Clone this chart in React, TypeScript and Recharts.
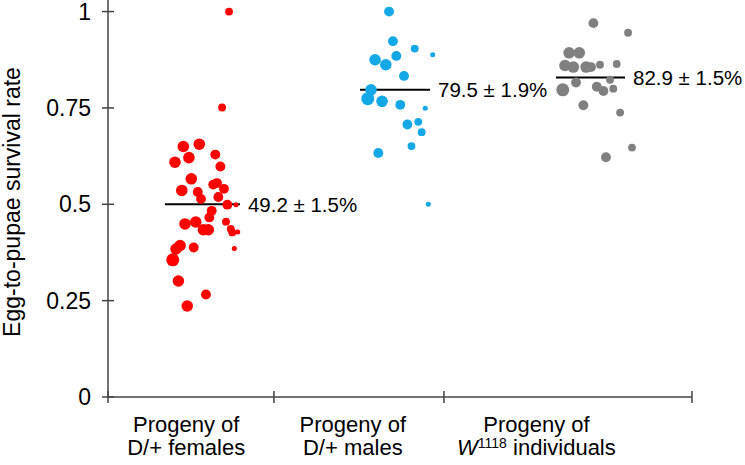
import { ScatterChart, Scatter, XAxis, YAxis, ZAxis, ReferenceLine } from "recharts";

const FONT = "'Liberation Sans', Arial, Helvetica, sans-serif";

// each point: [x position (jittered, category units), survival rate, dot weight]
const femalesPoints = [
  [0.443, 0.65, 4], [0.537, 0.656, 4], [0.394, 0.609, 4], [0.476, 0.621, 4],
  [0.631, 0.629, 3], [0.661, 0.598, 3], [0.49, 0.566, 4], [0.434, 0.536, 4],
  [0.528, 0.532, 3], [0.547, 0.514, 3], [0.619, 0.551, 3], [0.641, 0.555, 3],
  [0.682, 0.54, 3], [0.649, 0.519, 3], [0.702, 0.499, 3], [0.753, 0.499, 1],
  [0.61, 0.483, 3], [0.596, 0.466, 3], [0.453, 0.449, 4], [0.516, 0.454, 4],
  [0.561, 0.434, 4], [0.59, 0.434, 4], [0.694, 0.455, 2], [0.722, 0.436, 2],
  [0.731, 0.427, 2], [0.763, 0.428, 1], [0.743, 0.385, 1], [0.424, 0.393, 4],
  [0.4, 0.384, 4], [0.504, 0.388, 3], [0.381, 0.356, 5], [0.414, 0.301, 4],
  [0.576, 0.266, 3], [0.466, 0.236, 4], [0.712, 1.0, 2], [0.671, 0.751, 2],
];

const malesPoints = [
  [1.653, 1.0, 3], [1.676, 0.923, 3], [1.804, 0.904, 2], [1.571, 0.875, 4],
  [1.634, 0.862, 4], [1.696, 0.885, 3], [1.741, 0.833, 3], [1.547, 0.797, 4],
  [1.528, 0.774, 5], [1.612, 0.767, 4], [1.719, 0.758, 3], [1.866, 0.749, 1],
  [1.761, 0.707, 3], [1.825, 0.714, 2], [1.845, 0.687, 2], [1.785, 0.651, 2],
  [1.59, 0.633, 3], [1.884, 0.5, 1], [1.91, 0.888, 1],
];

const w1118Points = [
  [2.855, 0.97, 3], [2.712, 0.893, 4], [2.772, 0.893, 4], [2.688, 0.86, 4],
  [2.737, 0.856, 4], [2.812, 0.856, 4], [2.841, 0.856, 3], [2.894, 0.862, 2],
  [2.992, 0.864, 2], [2.753, 0.816, 3], [2.675, 0.797, 5], [2.875, 0.805, 3],
  [2.914, 0.794, 3], [2.953, 0.823, 2], [2.972, 0.8, 2], [2.796, 0.757, 3],
  [3.012, 0.738, 2], [2.929, 0.622, 3], [3.059, 0.945, 2], [3.082, 0.647, 2],
];

const groupColors = ["#ff0000", "#14a8e6", "#808080"];
const meanValues = [0.5, 0.797, 0.829];
const meanSpans = [[0.335, 0.776], [1.482, 1.894], [2.635, 3.041]];
const meanLabels = ["49.2 \u00b1 1.5%", "79.5 \u00b1 1.9%", "82.9 \u00b1 1.5%"];

const yTicks = [0, 0.25, 0.5, 0.75, 1];
const dividers = [0, 0.976, 1.976, 3.435];
const categoryPos = [0.46, 1.44, 2.52];
const categoryLine1 = ["Progeny of", "Progeny of", "Progeny of"];
const categoryLine2 = [
  [{ t: "D/+ females" }],
  [{ t: "D/+ males" }],
  [{ t: "W", italic: true }, { t: "1118", sup: true }, { t: " individuals" }],
];

const toRows = (pts: number[][]) => pts.map(([x, y, n]) => ({ x, y, n }));

const YTick = (props: any) => {
  const { x, y, payload } = props;
  return (
    <g>
      <line x1={x - 6} x2={x + 6} y1={y} y2={y} stroke="#444" strokeWidth={1.5} />
      <text x={x - 17} y={y} textAnchor="end" dominantBaseline="central" fontSize={23} fill="#000" fontFamily={FONT}>
        {String(payload.value)}
      </text>
    </g>
  );
};

const XTick = (props: any) => {
  const { x, y, payload } = props;
  const idx = categoryPos.indexOf(payload.value);
  if (idx < 0) {
    return <line x1={x} x2={x} y1={y - 6} y2={y + 6} stroke="#444" strokeWidth={1.5} />;
  }
  return (
    <g fontFamily={FONT} fill="#000">
      <text x={x} y={y + 35} textAnchor="middle" fontSize={22}>{categoryLine1[idx]}</text>
      <text x={x} y={y + 58} textAnchor="middle" fontSize={22}>
        {categoryLine2[idx].map((s: any, i: number) => (
          <tspan
            key={i}
            fontStyle={s.italic ? "italic" : undefined}
            fontSize={s.sup ? 14 : undefined}
            dy={s.sup ? -7 : i > 0 && categoryLine2[idx][i - 1].sup ? 7 : undefined}
          >
            {s.t}
          </tspan>
        ))}
      </text>
    </g>
  );
};

const YTitle = () => (
  <text
    transform="translate(20, 202) rotate(-90)"
    textAnchor="middle"
    fontSize={23}
    fontFamily={FONT}
    fill="#000"
  >
    Egg-to-pupae survival rate
  </text>
);

export default function App() {
  const groups = [femalesPoints, malesPoints, w1118Points];
  return (
    <div style={{ position: "absolute", left: 0, top: 0, background: "#fff" }}>
      <ScatterChart width={745} height={465} margin={{ top: 0, right: 53, bottom: 0, left: 0 }}>
        <XAxis
          type="number"
          dataKey="x"
          domain={[0, 3.435]}
          ticks={[...dividers, ...categoryPos].sort((a, b) => a - b)}
          interval={0}
          tick={<XTick />}
          tickLine={false}
          tickSize={0}
          tickMargin={0}
          height={68}
          axisLine={{ stroke: "#444", strokeWidth: 1.5 }}
          allowDataOverflow
        />
        <YAxis
          type="number"
          dataKey="y"
          domain={[0, 1.03]}
          ticks={yTicks}
          interval={0}
          tick={<YTick />}
          tickLine={false}
          tickSize={0}
          tickMargin={0}
          width={108}
          axisLine={{ stroke: "#444", strokeWidth: 1.5 }}
          allowDataOverflow
        />
        <ZAxis type="number" dataKey="n" domain={[1, 5]} range={[20, 133]} />
        {groups.map((pts, i) => (
          <Scatter key={i} data={toRows(pts)} fill={groupColors[i]} isAnimationActive={false} />
        ))}
        {meanValues.map((m, i) => (
          <ReferenceLine
            key={"m" + i}
            segment={[{ x: meanSpans[i][0], y: m }, { x: meanSpans[i][1], y: m }]}
            stroke="#000"
            strokeWidth={2}
            label={{ value: meanLabels[i], position: "right", offset: 8, fill: "#000", fontSize: 20.5, fontFamily: FONT }}
          />
        ))}
        <YTitle />
      </ScatterChart>
    </div>
  );
}
